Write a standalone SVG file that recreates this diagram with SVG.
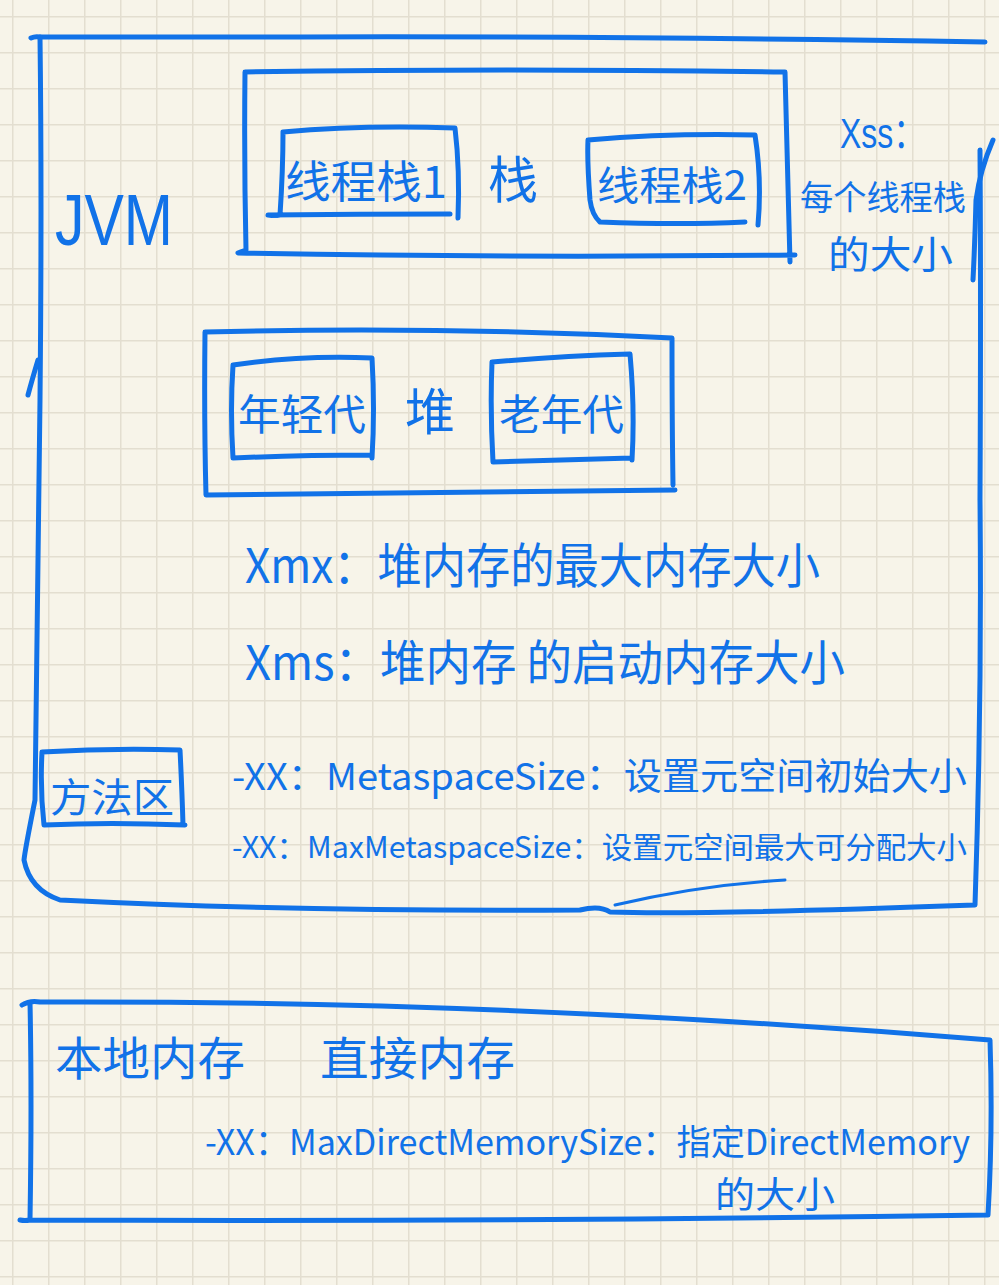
<svg xmlns="http://www.w3.org/2000/svg" width="999" height="1285" viewBox="0 0 999 1285">
<style>
.ink{fill:none;stroke:#1172e8;stroke-width:5;stroke-linecap:round;stroke-linejoin:round}
.thin{fill:none;stroke:#1172e8;stroke-width:3;stroke-linecap:round}
.t{fill:#1172e8;font-family:"Liberation Sans","Noto Sans CJK SC",sans-serif}
.c{fill:#1172e8;font-family:"Noto Sans CJK SC",sans-serif}
</style>
<defs>
<pattern id="grid" x="12" y="16" width="36" height="36" patternUnits="userSpaceOnUse">
<path d="M0 0V36M0 0H36" stroke="#e3ded0" stroke-width="3" fill="none"/>
</pattern>
</defs>
<rect width="999" height="1285" fill="#f7f4e9"/>
<rect width="999" height="1285" fill="url(#grid)"/>

<g id="jvm">
<path class="ink" d="M31 38 Q35 36 40 37 Q130 37 300 37 Q600 36 985 42"/>
<path class="ink" d="M40 37 Q42 200 40 400 Q38 600 35 800 Q25 850 24 860 Q30 890 60 900 Q300 912 580 910 Q600 905 610 912 Q700 915 975 905 Q982 700 980 500 Q981 300 980 150"/>
<path class="ink" d="M38 360 Q32 380 28 395"/>
<text class="t" x="55" y="245" font-size="72" textLength="118" lengthAdjust="spacingAndGlyphs">JVM</text>
</g>

<g id="stack">
<path class="ink" d="M245 72 Q500 68 785 72 Q787 160 790 262 M245 72 Q244 160 246 250 Q240 252 238 253 Q500 258 795 255"/>
<text class="c" x="488" y="198" font-size="50">栈</text>
</g>
<g id="thread1">
<path class="ink" d="M283 132 Q360 125 455 128 Q460 170 458 218 M283 132 Q283 170 280 215 Q275 216 268 215 Q360 214 450 214"/>
<text class="c" x="285" y="198" font-size="44" textLength="162" lengthAdjust="spacingAndGlyphs">线程栈1</text>
</g>
<g id="thread2">
<path class="ink" d="M588 140 Q670 133 755 135 Q762 180 758 225 M588 140 Q587 160 590 200 Q592 215 600 222 Q680 225 745 222"/>
<text class="c" x="597" y="200" font-size="40" textLength="150" lengthAdjust="spacingAndGlyphs">线程栈2</text>
</g>
<g id="xss">
<text class="t" x="840" y="148" font-size="42" textLength="85" lengthAdjust="spacingAndGlyphs">Xss：</text>
<text class="c" x="800" y="210" font-size="34" textLength="166" lengthAdjust="spacingAndGlyphs">每个线程栈</text>
<text class="c" x="828" y="268" font-size="38" textLength="125" lengthAdjust="spacingAndGlyphs">的大小</text>
<path class="ink" d="M993 140 Q980 170 976 200 Q975 240 973 280"/>
</g>

<g id="heap">
<path class="ink" d="M205 332 Q440 326 672 338 Q672 420 673 485 M205 332 Q204 420 206 495 Q440 492 675 490"/>
<text class="c" x="405" y="430" font-size="50">堆</text>
</g>
<g id="young">
<path class="ink" d="M233 365 Q300 355 372 358 Q375 410 372 458 M233 365 Q230 410 233 458 Q300 455 372 455"/>
<text class="c" x="238" y="430" font-size="42" textLength="128" lengthAdjust="spacingAndGlyphs">年轻代</text>
</g>
<g id="old">
<path class="ink" d="M492 362 Q560 356 630 354 Q635 410 632 460 M492 362 Q490 410 493 462 Q560 460 632 458"/>
<text class="c" x="499" y="430" font-size="42" textLength="125" lengthAdjust="spacingAndGlyphs">老年代</text>
</g>

<g id="xmx">
<text class="c" x="245" y="583" font-size="48" textLength="575" lengthAdjust="spacingAndGlyphs">Xmx：堆内存的最大内存大小</text>
</g>
<g id="xms">
<text class="c" x="245" y="680" font-size="48" textLength="600" lengthAdjust="spacingAndGlyphs">Xms：堆内存 的启动内存大小</text>
</g>

<g id="method">
<path class="ink" d="M42 752 Q110 748 180 750 Q182 790 183 825 M42 752 Q40 790 44 825 Q110 822 185 825"/>
<text class="c" x="50" y="812" font-size="40" textLength="124" lengthAdjust="spacingAndGlyphs">方法区</text>
</g>
<g id="meta">
<text class="c" x="232" y="790" font-size="37" textLength="735" lengthAdjust="spacingAndGlyphs">-XX：MetaspaceSize：设置元空间初始大小</text>
<text class="c" x="232" y="858" font-size="30" textLength="735" lengthAdjust="spacingAndGlyphs">-XX：MaxMetaspaceSize：设置元空间最大可分配大小</text>
<path class="thin" d="M615 905 Q700 885 785 880"/>
</g>

<g id="native">
<path class="ink" d="M22 1005 Q30 1000 40 1002 Q500 1000 990 1040 Q993 1130 988 1215 Q500 1222 30 1220 Q25 1221 20 1220 M30 1002 Q32 1100 30 1220"/>
<text class="c" x="55" y="1075" font-size="46" textLength="190" lengthAdjust="spacingAndGlyphs">本地内存</text>
<text class="c" x="320" y="1075" font-size="46" textLength="195" lengthAdjust="spacingAndGlyphs">直接内存</text>
<text class="c" x="205" y="1155" font-size="35" textLength="765" lengthAdjust="spacingAndGlyphs">-XX：MaxDirectMemorySize：指定DirectMemory</text>
<text class="c" x="715" y="1208" font-size="36" textLength="120" lengthAdjust="spacingAndGlyphs">的大小</text>
</g>
<g id="connectors"/>
</svg>
